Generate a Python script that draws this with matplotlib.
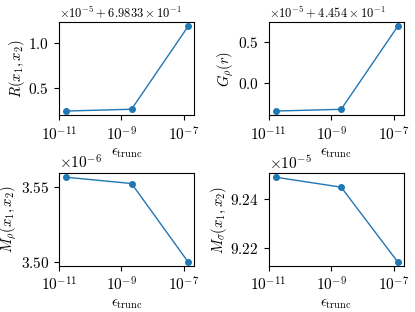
import matplotlib
matplotlib.use("Agg")
import matplotlib.pyplot as plt
from matplotlib.ticker import ScalarFormatter

plt.rcParams["font.family"] = "serif"
plt.rcParams["font.serif"] = ["cmr10"]
plt.rcParams["mathtext.fontset"] = "cm"
plt.rcParams["axes.formatter.use_mathtext"] = True
plt.rcParams["axes.unicode_minus"] = True
plt.rcParams["font.size"] = 11
plt.rcParams["axes.labelsize"] = 10.5

# truncation thresholds
eps_trunc = [1.7e-11, 2.1e-9, 1.35e-7]

# observables
R_x1x2 = [0.6983325, 0.6983327, 0.69834186]
G_rho = [0.44539658, 0.44539679, 0.44540688]
M_rho = [3.5567e-6, 3.5525e-6, 3.5000e-6]
M_sigma = [9.2491e-5, 9.2450e-5, 9.2141e-5]

series = [R_x1x2, G_rho, M_rho, M_sigma]
ylabels = [r"$R(x_1,x_2)$", r"$G_\rho(r)$",
           r"$M_\rho(x_1,x_2)$", r"$M_\sigma(x_1,x_2)$"]


class OffsetFormatter(ScalarFormatter):
    # same ticks, but offset text written with spaces around the "+"
    def __init__(self, offset, text):
        super().__init__(useOffset=offset, useMathText=True)
        self.text = text

    def get_offset(self):
        return self.text


fig, axs = plt.subplots(2, 2, figsize=(4.15, 3.12), dpi=100)
for ax, y, lab in zip(axs.flat, series, ylabels):
    ax.plot(eps_trunc, y, marker="o", markersize=4, linewidth=1, color="C0")
    ax.set_xscale("log")
    ax.set_xlabel(r"$\epsilon_{\rm trunc}$", labelpad=2)
    ax.set_ylabel(lab, labelpad=1)
    ax.set_xticks([1e-11, 1e-9, 1e-7])
    ax.minorticks_off()

axs[0, 0].set_yticks([0.698335, 0.698340])
axs[0, 0].yaxis.set_major_formatter(
    OffsetFormatter(0.69833, r"$\times10^{-5} + 6.9833\times10^{-1}$"))
axs[0, 1].set_yticks([0.4454000, 0.4454050])
axs[0, 1].yaxis.set_major_formatter(
    OffsetFormatter(0.4454, r"$\times10^{-5} + 4.454\times10^{-1}$"))
axs[1, 0].set_yticks([3.50e-6, 3.55e-6])
axs[1, 1].set_yticks([9.22e-5, 9.24e-5])
for ax in axs[0]:
    ax.yaxis.get_offset_text().set_fontsize(9)

fig.subplots_adjust(left=0.142, right=0.973, top=0.929, bottom=0.147,
                    wspace=0.55, hspace=0.62)
fig.savefig("out.png", dpi=100)
